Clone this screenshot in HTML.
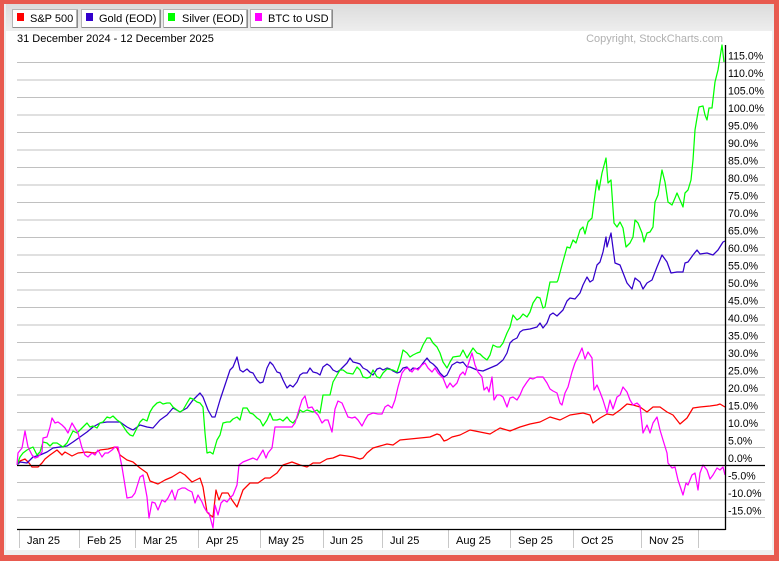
<!DOCTYPE html>
<html><head><meta charset="utf-8"><style>
html,body{margin:0;padding:0;width:779px;height:561px;overflow:hidden;background:#e85a4f;}
svg{display:block;font-family:"Liberation Sans",Arial,sans-serif;}
</style></head><body>
<svg width="779" height="561" viewBox="0 0 779 561" xmlns="http://www.w3.org/2000/svg">
<defs>
<linearGradient id="hg" x1="0" y1="0" x2="0" y2="1"><stop offset="0" stop-color="#dcdcdc"/><stop offset="1" stop-color="#eeeeee"/></linearGradient>
</defs>
<rect x="0" y="0" width="779" height="561" fill="#e85a4f"/>
<rect x="4" y="4" width="770" height="551" fill="#efefef"/>
<rect x="6" y="31" width="766" height="519" fill="#ffffff"/>
<rect x="6" y="4" width="768" height="27" fill="url(#hg)"/>

<!-- legend buttons -->
<g font-size="11" fill="#000">
<rect x="12.5" y="9.5" width="64" height="18" fill="#fff" stroke="#b4b4b4"/>
<path d="M13 27.5H77.5V9.5" fill="none" stroke="#8a8a8a"/>
<rect x="17" y="13" width="7" height="8" fill="#ff0000"/>
<text x="30" y="22">S&amp;P 500</text>
<rect x="81.5" y="9.5" width="78" height="18" fill="#fff" stroke="#b4b4b4"/>
<path d="M82 27.5H160.5V9.5" fill="none" stroke="#8a8a8a"/>
<rect x="86" y="13" width="7" height="8" fill="#3300cc"/>
<text x="99" y="22">Gold (EOD)</text>
<rect x="163.5" y="9.5" width="83" height="18" fill="#fff" stroke="#b4b4b4"/>
<path d="M164 27.5H247.5V9.5" fill="none" stroke="#8a8a8a"/>
<rect x="168" y="13" width="7" height="8" fill="#00ff00"/>
<text x="182" y="22">Silver (EOD)</text>
<rect x="250.5" y="9.5" width="81" height="18" fill="#fff" stroke="#b4b4b4"/>
<path d="M251 27.5H332.5V9.5" fill="none" stroke="#8a8a8a"/>
<rect x="255" y="13" width="7" height="8" fill="#ff00ff"/>
<text x="268" y="22">BTC to USD</text>
</g>

<text x="17" y="42" font-size="11" fill="#000">31 December 2024 - 12 December 2025</text>
<text x="723" y="42" font-size="11" fill="#b0b0b0" text-anchor="end">Copyright, StockCharts.com</text>

<!-- grid -->
<g stroke="#c0c0c0" stroke-width="1">
<line x1="17" x2="765" y1="62.5" y2="62.5"/>
<line x1="17" x2="765" y1="80" y2="80"/>
<line x1="17" x2="765" y1="97.5" y2="97.5"/>
<line x1="17" x2="765" y1="115" y2="115"/>
<line x1="17" x2="765" y1="132.5" y2="132.5"/>
<line x1="17" x2="765" y1="150" y2="150"/>
<line x1="17" x2="765" y1="167.5" y2="167.5"/>
<line x1="17" x2="765" y1="185" y2="185"/>
<line x1="17" x2="765" y1="202.5" y2="202.5"/>
<line x1="17" x2="765" y1="220" y2="220"/>
<line x1="17" x2="765" y1="237.5" y2="237.5"/>
<line x1="17" x2="765" y1="255" y2="255"/>
<line x1="17" x2="765" y1="272.5" y2="272.5"/>
<line x1="17" x2="765" y1="290" y2="290"/>
<line x1="17" x2="765" y1="307.5" y2="307.5"/>
<line x1="17" x2="765" y1="325" y2="325"/>
<line x1="17" x2="765" y1="342.5" y2="342.5"/>
<line x1="17" x2="765" y1="360" y2="360"/>
<line x1="17" x2="765" y1="377.5" y2="377.5"/>
<line x1="17" x2="765" y1="395" y2="395"/>
<line x1="17" x2="765" y1="412.5" y2="412.5"/>
<line x1="17" x2="765" y1="430" y2="430"/>
<line x1="17" x2="765" y1="447.5" y2="447.5"/>
<line x1="17" x2="765" y1="482.5" y2="482.5"/>
<line x1="17" x2="765" y1="500" y2="500"/>
<line x1="17" x2="765" y1="517.5" y2="517.5"/>
</g>

<!-- x separators -->
<g stroke="#c8c8c8" stroke-width="1">
<line x1="19.5" x2="19.5" y1="530" y2="548"/>
<line x1="79.5" x2="79.5" y1="530" y2="548"/>
<line x1="135.5" x2="135.5" y1="530" y2="548"/>
<line x1="198.5" x2="198.5" y1="530" y2="548"/>
<line x1="260.5" x2="260.5" y1="530" y2="548"/>
<line x1="323.5" x2="323.5" y1="530" y2="548"/>
<line x1="382.5" x2="382.5" y1="530" y2="548"/>
<line x1="448.5" x2="448.5" y1="530" y2="548"/>
<line x1="510.5" x2="510.5" y1="530" y2="548"/>
<line x1="573.5" x2="573.5" y1="530" y2="548"/>
<line x1="641.5" x2="641.5" y1="530" y2="548"/>
<line x1="698.5" x2="698.5" y1="530" y2="548"/>
</g>

<!-- series -->
<g fill="none" stroke-width="1.25" stroke-linejoin="round">
<polyline stroke="#ff0000" points="17,465 20,461 25,459 29,463 32,467 38,467 42,463 45,459 50,455 57,450 62,455 65,452 72,456 78,453 87,452 95,453 100,450 108,449 115,447 117,448 120,455 127,460 133,462 140,468 147,473 150,481 158,484 165,480 172,477 180,472 185,475 192,482 200,478 203,487 207,512 210,515 213,517 216,490 219,500 222,493 228,493 232,500 237,507 243,490 250,483 258,483 265,478 270,478 277,473 283,465 292,462 300,465 307,467 313,463 320,463 327,459 333,458 340,455 347,456 353,457 360,459 363,458 367,453 373,448 380,446 387,444 393,445 400,440 410,439 420,438 430,437 437,434 440,435 444,441 447,440 452,437 460,435 470,430 480,432 490,434 500,428 510,431 520,427 530,424 540,422 550,417 560,420 570,415 583,413 590,415 593,423 600,418 607,414 613,415 620,410 627,404 633,405 640,407 647,412 653,407 660,407 667,412 673,415 680,424 687,418 693,408 700,407 710,406 717,405 720,404 725,407"/>
<polyline stroke="#3300cc" points="17,465 20,462 27,463 33,457 40,455 47,452 53,448 60,447 67,446 73,442 80,437 87,432 93,427 100,423 107,422 113,422 120,422 127,427 133,430 140,425 147,427 153,428 160,420 167,415 173,408 180,412 187,408 193,400 200,393 203,397 208,410 212,417 215,417 220,400 225,385 230,370 233,367 237,357 240,370 243,372 247,369 250,372 253,373 257,380 260,383 263,382 267,368 270,362 273,365 277,372 280,373 283,380 287,388 290,385 293,387 297,382 300,375 303,373 307,373 310,368 313,372 317,373 320,375 323,367 327,364 330,366 333,370 337,372 340,370 343,367 347,363 350,358 353,362 357,363 360,364 363,368 367,370 370,373 373,375 377,369 380,368 383,370 387,368 390,369 393,371 397,373 400,372 403,368 407,367 410,371 413,368 417,369 420,367 423,363 427,358 430,362 433,364 437,368 440,373 444,377 447,375 452,365 457,362 460,363 463,362 467,367 470,367 477,370 483,371 490,368 497,365 503,360 507,353 510,343 513,340 517,338 520,332 523,330 530,329 537,327 540,323 543,328 547,323 550,315 553,313 557,316 560,313 563,310 567,301 570,298 575,299 580,293 583,285 587,277 590,282 593,280 597,265 600,262 603,252 606,237 607,247 611,233 615,263 620,265 627,283 632,289 635,278 640,282 643,289 647,283 652,280 657,267 662,255 667,262 671,273 677,272 683,272 685,263 688,262 693,255 697,250 700,254 707,253 713,255 718,250 723,242 725,241"/>
<polyline stroke="#00ff00" points="17,465 20,457 23,453 27,450 33,447 37,455 40,452 43,442 47,443 50,446 53,443 57,443 60,445 63,447 67,443 70,437 73,431 77,433 80,430 83,427 87,423 90,427 93,426 97,428 100,423 103,422 107,417 110,418 113,416 117,420 120,422 123,426 127,432 130,435 133,436 137,428 140,422 143,419 147,421 150,412 153,407 157,403 160,402 163,404 167,403 170,403 173,407 177,410 180,412 183,410 187,403 190,398 193,399 197,402 200,403 203,407 205,433 207,453 210,452 213,454 217,440 220,435 223,423 227,422 230,422 233,419 237,417 240,420 243,408 247,408 250,413 253,414 257,418 260,420 263,426 267,420 270,413 273,420 277,420 280,419 283,421 287,417 290,421 293,423 297,418 300,410 303,412 307,410 310,411 313,412 317,410 320,413 323,395 330,395 333,382 337,375 340,370 343,370 347,373 353,374 357,367 360,370 363,377 367,378 370,377 373,370 377,377 380,378 383,373 387,369 393,370 397,372 400,363 403,350 407,353 410,357 413,355 417,353 420,352 423,345 427,338 430,338 433,343 437,347 440,353 443,362 447,368 450,362 453,357 460,356 463,350 467,358 470,353 473,348 477,353 480,354 483,357 487,360 490,355 493,345 497,347 500,347 503,343 507,333 510,327 513,315 517,320 520,318 523,314 527,317 530,312 533,303 537,297 540,298 543,308 545,307 550,282 557,282 558,280 562,265 567,247 570,248 573,240 576,243 580,230 583,227 585,234 588,222 592,218 594,202 597,180 599,190 602,173 606,158 608,183 611,180 614,223 617,227 620,222 623,228 626,247 630,243 633,237 635,220 638,223 642,233 644,242 647,233 650,232 653,227 655,202 658,195 662,170 665,182 668,202 672,205 675,198 677,193 680,200 683,207 685,193 688,190 691,180 693,160 695,130 697,118 699,107 703,106 705,115 707,120 709,108 712,108 715,82 718,70 722,45 724,62"/>
<polyline stroke="#ff00ff" points="17,465 18,453 22,448 25,431 28,447 32,455 35,458 38,457 42,452 43,438 47,437 50,427 52,418 55,423 58,422 62,425 65,428 68,433 72,423 75,428 78,433 82,448 85,455 88,457 92,453 95,455 98,450 102,457 105,453 108,453 112,450 115,447 118,447 122,467 127,498 132,497 135,493 140,477 143,475 147,497 149,518 152,502 155,503 158,510 162,500 165,502 168,498 172,490 175,500 178,490 182,488 185,488 188,490 192,492 195,503 198,495 202,502 204,507 207,512 209,513 213,528 215,505 218,515 221,503 224,500 227,502 230,498 233,495 237,485 239,465 243,462 248,460 253,458 257,460 260,455 263,450 266,458 268,453 272,448 275,427 280,427 285,427 292,427 295,423 298,413 302,400 305,396 308,408 312,407 315,412 318,415 322,423 325,420 328,420 332,432 335,409 338,401 342,403 345,410 348,417 352,418 355,417 358,420 362,426 365,420 368,415 373,413 378,414 382,414 385,407 388,405 392,408 395,400 398,387 402,373 405,369 408,368 412,372 415,368 418,370 422,365 425,363 428,368 432,372 435,368 438,373 443,378 447,388 450,383 453,387 457,383 460,375 463,372 465,375 468,365 472,353 475,365 478,372 482,377 484,390 487,387 489,392 492,377 494,400 497,395 500,395 503,397 507,407 510,398 513,397 517,400 520,395 523,388 527,382 530,378 533,379 537,377 540,377 543,377 547,383 550,389 553,391 557,393 560,403 562,405 565,393 568,387 572,372 575,363 578,357 582,348 585,359 588,352 592,358 594,390 597,385 600,392 603,400 607,413 610,400 613,409 617,397 620,395 623,387 627,392 630,400 633,405 637,403 640,406 643,433 647,425 650,433 653,423 657,417 660,430 663,440 667,453 668,463 672,468 675,467 678,480 683,495 686,483 688,485 692,475 695,473 698,490 700,473 703,465 707,470 710,479 713,475 717,468 720,470 723,467 725,475"/>
</g>

<!-- axes -->
<line x1="17" x2="765" y1="465.5" y2="465.5" stroke="#000" stroke-width="1.2"/>
<line x1="17" x2="725.5" y1="529.5" y2="529.5" stroke="#000" stroke-width="1.3"/>
<line x1="725.5" x2="725.5" y1="45" y2="530" stroke="#000" stroke-width="1.3"/>

<!-- y labels -->
<g font-size="10.6" fill="#000">
<text x="728" y="59.5">115.0%</text>
<text x="728" y="77">110.0%</text>
<text x="728" y="94.5">105.0%</text>
<text x="728" y="112">100.0%</text>
<text x="728" y="129.5">95.0%</text>
<text x="728" y="147">90.0%</text>
<text x="728" y="164.5">85.0%</text>
<text x="728" y="182">80.0%</text>
<text x="728" y="199.5">75.0%</text>
<text x="728" y="217">70.0%</text>
<text x="728" y="234.5">65.0%</text>
<text x="728" y="252">60.0%</text>
<text x="728" y="269.5">55.0%</text>
<text x="728" y="287">50.0%</text>
<text x="728" y="304.5">45.0%</text>
<text x="728" y="322">40.0%</text>
<text x="728" y="339.5">35.0%</text>
<text x="728" y="357">30.0%</text>
<text x="728" y="374.5">25.0%</text>
<text x="728" y="392">20.0%</text>
<text x="728" y="409.5">15.0%</text>
<text x="728" y="427">10.0%</text>
<text x="728" y="444.5">5.0%</text>
<text x="728" y="462">0.0%</text>
<text x="728" y="479.5">-5.0%</text>
<text x="728" y="497">-10.0%</text>
<text x="728" y="514.5">-15.0%</text>
</g>

<!-- x labels -->
<g font-size="11" fill="#000">
<text x="27" y="544">Jan 25</text>
<text x="87" y="544">Feb 25</text>
<text x="143" y="544">Mar 25</text>
<text x="206" y="544">Apr 25</text>
<text x="268" y="544">May 25</text>
<text x="330" y="544">Jun 25</text>
<text x="390" y="544">Jul 25</text>
<text x="456" y="544">Aug 25</text>
<text x="518" y="544">Sep 25</text>
<text x="581" y="544">Oct 25</text>
<text x="649" y="544">Nov 25</text>
</g>
</svg>
</body></html>
